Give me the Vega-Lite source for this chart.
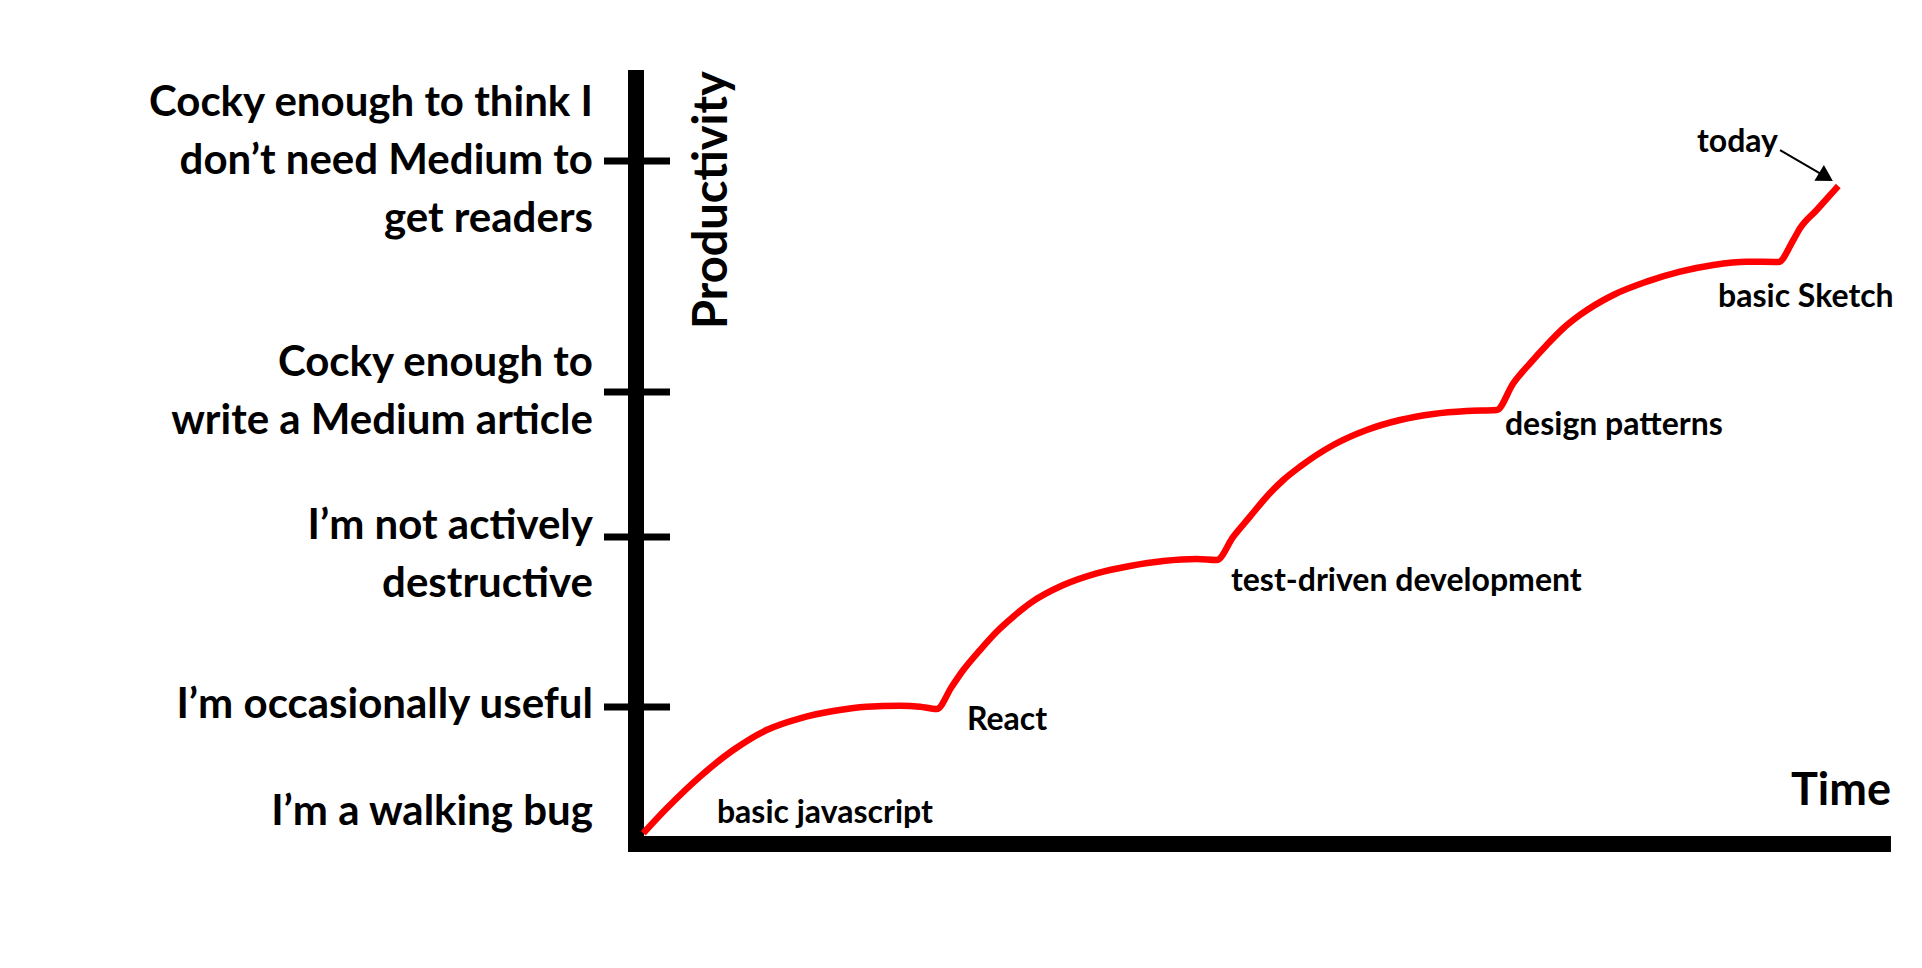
{
  "$schema": "https://vega.github.io/schema/vega-lite/v6.json",
  "width": 1255,
  "height": 774,
  "autosize": {"type": "none"},
  "padding": {"left": 636, "top": 70, "right": 31, "bottom": 124},
  "background": "white",
  "config": {"view": {"stroke": null}},
  "datasets": {
    "axes": [
      {"name": "Productivity", "x": 0, "y": 0, "x2": 0, "y2": 98.97},
      {"name": "Time", "x": 0, "y": 0, "x2": 99.36, "y2": 0}
    ],
    "ticks": [
      {"level": "Cocky enough to think I don’t need Medium to get readers", "y": 88.24, "x": -2.55, "x2": 2.71},
      {"level": "Cocky enough to write a Medium article", "y": 58.4, "x": -2.55, "x2": 2.71},
      {"level": "I’m not actively destructive", "y": 39.66, "x": -2.55, "x2": 2.71},
      {"level": "I’m occasionally useful", "y": 17.7, "x": -2.55, "x2": 2.71}
    ],
    "levels": [
      {"label": "Cocky enough to think I|don’t need Medium to|get readers", "x": -3.43, "y": 94.06},
      {"label": "Cocky enough to|write a Medium article", "x": -3.43, "y": 60.47},
      {"label": "I’m not actively|destructive", "x": -3.43, "y": 39.41},
      {"label": "I’m occasionally useful", "x": -3.43, "y": 16.28},
      {"label": "I’m a walking bug", "x": -3.43, "y": 2.45}
    ],
    "curve": [
      {"t": 0, "x": 0.58, "y": 1.38},
      {"t": 1, "x": 2.45, "y": 4.61},
      {"t": 2, "x": 5.1, "y": 8.71},
      {"t": 3, "x": 7.75, "y": 12.14},
      {"t": 4, "x": 10.41, "y": 14.73},
      {"t": 5, "x": 13.07, "y": 16.24},
      {"t": 6, "x": 15.72, "y": 17.18},
      {"t": 7, "x": 18.38, "y": 17.74},
      {"t": 8, "x": 21.04, "y": 17.87},
      {"t": 9, "x": 22.63, "y": 17.74},
      {"t": 10, "x": 23.96, "y": 17.44},
      {"t": 11, "x": 25.16, "y": 20.32},
      {"t": 12, "x": 26.08, "y": 22.48},
      {"t": 13, "x": 27.41, "y": 25.06},
      {"t": 14, "x": 28.74, "y": 27.43},
      {"t": 15, "x": 30.06, "y": 29.37},
      {"t": 16, "x": 31.39, "y": 31.1},
      {"t": 17, "x": 34.05, "y": 33.46},
      {"t": 18, "x": 36.71, "y": 34.97},
      {"t": 19, "x": 39.36, "y": 35.92},
      {"t": 20, "x": 42.02, "y": 36.56},
      {"t": 21, "x": 44.68, "y": 36.82},
      {"t": 22, "x": 46.27, "y": 36.69},
      {"t": 23, "x": 47.59, "y": 39.7},
      {"t": 24, "x": 48.92, "y": 42.29},
      {"t": 25, "x": 50.25, "y": 44.87},
      {"t": 26, "x": 51.58, "y": 47.03},
      {"t": 27, "x": 52.91, "y": 48.75},
      {"t": 28, "x": 55.56, "y": 51.55},
      {"t": 29, "x": 58.22, "y": 53.49},
      {"t": 30, "x": 60.88, "y": 54.78},
      {"t": 31, "x": 63.53, "y": 55.56},
      {"t": 32, "x": 66.19, "y": 55.94},
      {"t": 33, "x": 68.58, "y": 56.07},
      {"t": 34, "x": 69.9, "y": 59.52},
      {"t": 35, "x": 71.24, "y": 62.11},
      {"t": 36, "x": 72.57, "y": 64.47},
      {"t": 37, "x": 73.89, "y": 66.63},
      {"t": 38, "x": 75.22, "y": 68.35},
      {"t": 39, "x": 77.87, "y": 70.93},
      {"t": 40, "x": 80.53, "y": 72.65},
      {"t": 41, "x": 83.19, "y": 73.94},
      {"t": 42, "x": 85.84, "y": 74.81},
      {"t": 43, "x": 88.5, "y": 75.23},
      {"t": 44, "x": 91.02, "y": 75.19},
      {"t": 45, "x": 92.22, "y": 78.04},
      {"t": 46, "x": 92.75, "y": 79.55},
      {"t": 47, "x": 94.08, "y": 81.91},
      {"t": 48, "x": 95.8, "y": 85.01}
    ],
    "steps": [
      {"label": "basic javascript", "x": 6.45, "y": 2.71},
      {"label": "React", "x": 26.37, "y": 14.73},
      {"label": "test-driven development", "x": 47.41, "y": 32.69},
      {"label": "design patterns", "x": 69.24, "y": 52.84},
      {"label": "basic Sketch", "x": 86.22, "y": 69.38},
      {"label": "today", "x": 84.54, "y": 89.41}
    ],
    "arrow": [
      {"x": 91.16, "y": 89.66, "x2": 94.82, "y2": 86.18}
    ],
    "titles": [
      {"label": "Time", "x": 100, "y": 5.04}
    ],
    "ytitle": [
      {"label": "Productivity", "x": 7.25, "y": 83.2}
    ]
  },
  "layer": [
    {
      "data": {"name": "axes"},
      "mark": {"type": "rule", "color": "black", "strokeWidth": 16, "strokeCap": "square"},
      "encoding": {
        "x": {"field": "x", "type": "quantitative", "scale": {"domain": [0, 100], "nice": false, "zero": false}, "axis": null},
        "y": {"field": "y", "type": "quantitative", "scale": {"domain": [0, 100], "nice": false, "zero": false}, "axis": null},
        "x2": {"field": "x2"},
        "y2": {"field": "y2"}
      }
    },
    {
      "data": {"name": "ticks"},
      "mark": {"type": "rule", "color": "black", "strokeWidth": 7, "strokeCap": "butt"},
      "encoding": {
        "x": {"field": "x", "type": "quantitative", "scale": {"domain": [0, 100], "nice": false, "zero": false}, "axis": null},
        "x2": {"field": "x2"},
        "y": {"field": "y", "type": "quantitative", "scale": {"domain": [0, 100], "nice": false, "zero": false}, "axis": null}
      }
    },
    {
      "data": {"name": "curve"},
      "mark": {"type": "line", "color": "#ff0000", "strokeWidth": 6.5, "interpolate": "monotone", "strokeJoin": "round"},
      "encoding": {
        "x": {"field": "x", "type": "quantitative", "scale": {"domain": [0, 100], "nice": false, "zero": false}, "axis": null},
        "y": {"field": "y", "type": "quantitative", "scale": {"domain": [0, 100], "nice": false, "zero": false}, "axis": null},
        "order": {"field": "t", "type": "quantitative"}
      }
    },
    {
      "data": {"name": "arrow"},
      "mark": {"type": "rule", "color": "black", "strokeWidth": 2},
      "encoding": {
        "x": {"field": "x", "type": "quantitative", "scale": {"domain": [0, 100], "nice": false, "zero": false}, "axis": null},
        "y": {"field": "y", "type": "quantitative", "scale": {"domain": [0, 100], "nice": false, "zero": false}, "axis": null},
        "x2": {"field": "x2"},
        "y2": {"field": "y2"}
      }
    },
    {
      "data": {"name": "arrow"},
      "mark": {"type": "point", "shape": "triangle-right", "filled": true, "color": "black", "opacity": 1, "size": 340, "angle": 31},
      "encoding": {
        "x": {"field": "x2", "type": "quantitative", "scale": {"domain": [0, 100], "nice": false, "zero": false}, "axis": null},
        "y": {"field": "y2", "type": "quantitative", "scale": {"domain": [0, 100], "nice": false, "zero": false}, "axis": null}
      }
    },
    {
      "data": {"name": "levels"},
      "mark": {"type": "text", "font": "Lato", "fontWeight": "bold", "fontSize": 42, "align": "right", "baseline": "alphabetic", "lineBreak": "|", "lineHeight": 58, "color": "black"},
      "encoding": {
        "x": {"field": "x", "type": "quantitative", "scale": {"domain": [0, 100], "nice": false, "zero": false}, "axis": null},
        "y": {"field": "y", "type": "quantitative", "scale": {"domain": [0, 100], "nice": false, "zero": false}, "axis": null},
        "text": {"field": "label"}
      }
    },
    {
      "data": {"name": "steps"},
      "mark": {"type": "text", "font": "Lato", "fontWeight": "bold", "fontSize": 32, "align": "left", "baseline": "alphabetic", "color": "black"},
      "encoding": {
        "x": {"field": "x", "type": "quantitative", "scale": {"domain": [0, 100], "nice": false, "zero": false}, "axis": null},
        "y": {"field": "y", "type": "quantitative", "scale": {"domain": [0, 100], "nice": false, "zero": false}, "axis": null},
        "text": {"field": "label"}
      }
    },
    {
      "data": {"name": "titles"},
      "mark": {"type": "text", "font": "Lato", "fontWeight": "bold", "fontSize": 45, "align": "right", "baseline": "alphabetic", "color": "black"},
      "encoding": {
        "x": {"field": "x", "type": "quantitative", "scale": {"domain": [0, 100], "nice": false, "zero": false}, "axis": null},
        "y": {"field": "y", "type": "quantitative", "scale": {"domain": [0, 100], "nice": false, "zero": false}, "axis": null},
        "text": {"field": "label"}
      }
    },
    {
      "data": {"name": "ytitle"},
      "mark": {"type": "text", "font": "Lato", "fontWeight": "bold", "fontSize": 47, "align": "center", "baseline": "alphabetic", "angle": 270, "color": "black"},
      "encoding": {
        "x": {"field": "x", "type": "quantitative", "scale": {"domain": [0, 100], "nice": false, "zero": false}, "axis": null},
        "y": {"field": "y", "type": "quantitative", "scale": {"domain": [0, 100], "nice": false, "zero": false}, "axis": null},
        "text": {"field": "label"}
      }
    }
  ]
}
